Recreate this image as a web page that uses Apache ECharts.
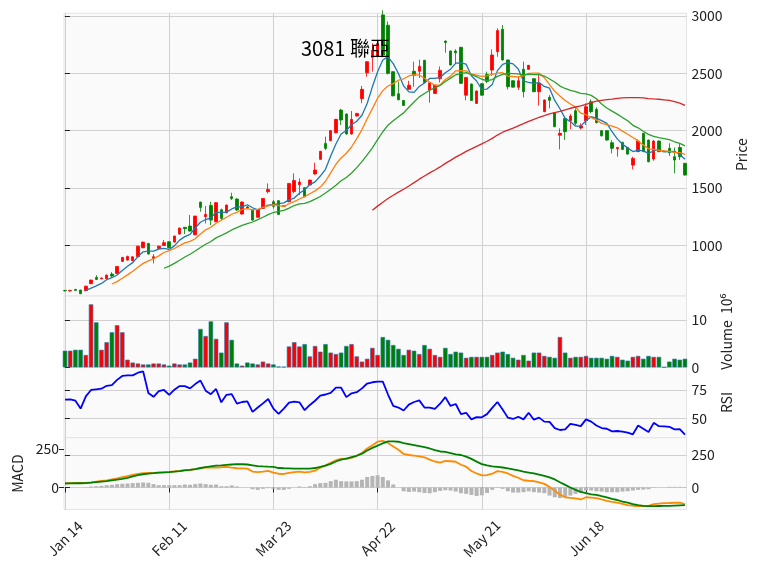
<!DOCTYPE html>
<html>
<head>
<meta charset="utf-8">
<title>3081 聯亞</title>
<script src="https://cdn.jsdelivr.net/npm/echarts@6.0.0/dist/echarts.min.js"></script>
<style>
  html, body { margin: 0; padding: 0; background: #fff; }
  #main { width: 758px; height: 572px; }
</style>
</head>
<body>
<div id="main"></div>
<script>
// ---- data (prices in TWD, volume in 10^6 shares) ----
var tickIdx    = [0, 20, 40, 60, 80, 100];
var tickLabels = ['Jan 14', 'Feb 11', 'Mar 23', 'Apr 22', 'May 21', 'Jun 18'];

var opens = [
  606, 602, 615, 610, 604, 665, 720, 708, 708, 749,
  755, 860, 871, 866, 900, 979, 1017, 886, 973, 999,
  1031, 1028, 1098, 1157, 1168, 1092, 1377, 1250, 1348, 1206,
  1310, 1284, 1424, 1404, 1273, 1335, 1308, 1244, 1322, 1468,
  1380, 1389, 1340, 1380, 1469, 1529, 1503, 1526, 1622, 1750,
  1889, 1913, 1982, 2180, 2145, 1971, 2128, 2279, 2506, 2640,
  2650, 3010, 2920, 2515, 2322, 2264, 2361, 2518, 2518, 2614,
  2354, 2325, 2454, 2782, 2695, 2695, 2727, 2310, 2407, 2238,
  2410, 2491, 2529, 2689, 2884, 2617, 2436, 2378, 2535, 2535,
  2454, 2340, 2166, 2291, 2157, 1960, 2107, 2087, 2174, 2023,
  2087, 2253, 2186, 2000, 2000, 1895, 1843, 1898, 1854, 1700,
  1817, 1977, 1918, 1753, 1910, 1817, 1846, 1773, 1854, 1715
];
var closes = [
  603, 606, 607, 578, 644, 697, 703, 715, 740, 732,
  816, 895, 903, 900, 993, 1028, 924, 900, 993, 1023,
  979, 1081, 1151, 1145, 1124, 1255, 1331, 1270, 1220, 1372,
  1235, 1351, 1408, 1308, 1378, 1325, 1220, 1313, 1409, 1488,
  1340, 1270, 1345, 1540, 1565, 1552, 1424, 1569, 1657, 1820,
  1846, 2000, 2099, 2093, 1971, 2099, 2151, 2361, 2602, 2700,
  2760, 2660, 2500, 2304, 2270, 2220, 2396, 2483, 2561, 2420,
  2418, 2396, 2526, 2770, 2573, 2680, 2413, 2465, 2264, 2346,
  2310, 2430, 2660, 2873, 2617, 2384, 2380, 2436, 2340, 2570,
  2340, 2413, 2268, 2265, 2035, 1977, 1991, 2128, 2064, 2041,
  2209, 2166, 2070, 1955, 1918, 1846, 1854, 1837, 1796, 1758,
  1910, 1817, 1729, 1910, 1817, 1817, 1808, 1744, 1773, 1613
];
var lows = [
  598, 597, 603, 575, 600, 662, 697, 704, 705, 720,
  752, 857, 868, 862, 897, 975, 920, 842, 970, 995,
  975, 1025, 1095, 1098, 1120, 1088, 1293, 1191, 1177, 1202,
  1220, 1280, 1395, 1300, 1268, 1315, 1215, 1240, 1318, 1453,
  1320, 1264, 1335, 1376, 1453, 1440, 1420, 1522, 1618, 1746,
  1831, 1909, 1978, 2049, 1966, 1966, 2124, 2240, 2471, 2515,
  2640, 2640, 2490, 2300, 2265, 2215, 2357, 2384, 2460, 2416,
  2244, 2321, 2420, 2680, 2569, 2580, 2409, 2265, 2260, 2234,
  2306, 2415, 2480, 2645, 2613, 2360, 2376, 2355, 2290, 2531,
  2336, 2218, 2162, 2195, 2031, 1837, 1919, 2014, 2050, 2012,
  2049, 2151, 2064, 1950, 1914, 1802, 1773, 1831, 1790, 1663,
  1817, 1813, 1725, 1738, 1813, 1817, 1780, 1628, 1745, 1609
];
var highs = [
  612, 612, 620, 612, 648, 700, 740, 720, 745, 766,
  818, 898, 910, 903, 996, 1031, 1020, 924, 996, 1046,
  1035, 1084, 1154, 1160, 1264, 1258, 1380, 1343, 1380, 1375,
  1320, 1355, 1459, 1410, 1382, 1345, 1312, 1317, 1412, 1540,
  1395, 1395, 1352, 1544, 1628, 1584, 1507, 1573, 1721, 1824,
  1948, 2004, 2103, 2192, 2150, 2172, 2155, 2390, 2606, 2762,
  2785, 3050, 2953, 2520, 2428, 2268, 2435, 2602, 2620, 2618,
  2422, 2400, 2560, 2786, 2699, 2710, 2731, 2469, 2411, 2350,
  2414, 2515, 2709, 2893, 2922, 2621, 2440, 2470, 2602, 2574,
  2458, 2500, 2272, 2310, 2161, 2020, 2111, 2145, 2195, 2064,
  2238, 2274, 2204, 2004, 2004, 1918, 1858, 1904, 1858, 1773,
  1925, 1981, 1922, 1918, 1914, 1817, 1890, 1854, 1890, 1719
];
var volumes = [
  3.5, 3.5, 3.7, 3.7, 2.6, 13.3, 9.5, 3.7, 5.3, 7.4,
  8.9, 7.4, 1.6, 1.0, 0.8, 0.6, 0.6, 0.8, 0.8, 0.6,
  0.35, 0.8, 0.6, 0.6, 1.0, 1.8, 8.1, 6.6, 9.7, 6.0,
  3.1, 9.5, 5.8, 0.8, 0.35, 1.0, 0.8, 0.6, 1.2, 0.8,
  0.6, 0.15, 0.1, 4.4, 5.3, 4.4, 4.9, 2.3, 4.5, 3.3,
  4.9, 3.1, 2.8, 3.1, 4.5, 4.9, 2.3, 1.2, 1.8, 4.1,
  2.6, 6.4, 5.8, 4.7, 3.9, 2.6, 3.7, 3.5, 2.8, 4.7,
  3.9, 2.6, 2.2, 4.1, 2.8, 3.3, 3.1, 2.0, 2.2, 2.2,
  2.2, 2.2, 2.6, 3.1, 3.3, 2.8, 2.0, 1.6, 2.6, 1.4,
  3.1, 3.1, 2.4, 2.2, 2.0, 6.4, 3.1, 2.0, 2.2, 2.2,
  2.4, 2.0, 2.0, 2.0, 1.8, 2.4, 2.2, 1.6, 1.4, 2.2,
  2.4, 1.8, 2.4, 2.2, 2.2, 0, 1.2, 1.8, 1.6, 1.8
];
var rsi = [
  66.4, 66.7, 65.5, 58.6, 69.3, 75.0, 75.6, 76.1, 78.7, 79.3,
  83.9, 87.4, 87.9, 87.9, 90.2, 91.4, 72.4, 69.0, 73.9, 75.0,
  70.7, 75.3, 78.4, 78.4, 76.4, 80.2, 83.3, 74.4, 71.3, 75.9,
  64.1, 70.7, 71.3, 62.9, 64.4, 64.9, 55.7, 59.5, 63.2, 67.0,
  58.6, 54.0, 58.6, 63.8, 64.7, 64.1, 57.2, 61.8, 65.5, 70.1,
  71.0, 72.4, 77.0, 77.0, 68.7, 72.1, 73.0, 76.4, 80.7, 81.8,
  82.3, 82.4, 71.0, 60.9, 59.5, 56.9, 62.1, 64.4, 65.8, 59.5,
  59.5, 58.3, 62.9, 68.7, 60.9, 62.6, 53.7, 54.9, 49.1, 51.1,
  50.9, 53.7, 59.2, 64.4, 57.8, 50.6, 49.4, 51.4, 49.1, 54.9,
  48.8, 50.6, 47.1, 46.8, 41.4, 39.7, 40.2, 45.1, 44.2, 43.1,
  49.1, 47.1, 43.7, 41.4, 40.8, 38.5, 38.8, 38.2, 37.4, 35.9,
  43.7, 40.8, 37.9, 46.0, 43.1, 42.8, 42.5, 40.2, 40.5, 35.6
];
var macd = [
  34, 34, 35, 35, 36, 40, 45, 50, 55, 63,
  70, 79, 88, 97, 105, 110, 112, 113, 115, 117,
  120, 124, 128, 133, 136, 141, 147, 154, 154, 154,
  156, 159, 153, 148, 147, 145, 123, 118, 122, 128,
  115, 106, 104, 113, 118, 122, 117, 120, 130, 152,
  170, 190, 210, 220, 221, 228, 245, 265, 300, 325,
  352, 359, 342, 315, 290, 258, 250, 245, 240, 232,
  215, 200, 192, 204, 202, 198, 175, 160, 127, 108,
  94, 95, 106, 126, 121, 108, 90, 75, 56, 52,
  49, 40, 28, 5, -25, -55, -75, -80, -84, -92,
  -75, -77, -81, -92, -102, -110, -117, -126, -135, -140,
  -143, -142, -141, -128, -124, -120, -119, -117, -117, -128
];
var signal = [
  31, 32, 33, 33, 34, 37, 41, 45, 49, 55,
  61, 67, 74, 85, 95, 102, 107, 110, 115, 117,
  119, 122, 126, 131, 135, 142, 150, 157, 163, 169,
  171, 174, 177, 180, 179, 177, 171, 165, 162, 160,
  159, 150, 148, 147, 146, 146, 146, 146, 150, 159,
  168, 182, 200, 214, 222, 233, 244, 260, 285, 305,
  322, 340, 354, 354, 352, 342, 334, 326, 318, 310,
  300, 287, 277, 274, 265, 255, 250, 238, 220, 199,
  180, 170, 162, 158, 154, 148, 140, 132, 122, 115,
  108, 100, 90, 78, 62, 40, 20, 0, -18, -33,
  -44, -52, -57, -67, -76, -88, -96, -108, -117, -128,
  -136, -141, -143, -143, -142, -141, -141, -139, -137, -135
];
var hist = [
  0, 0, 0, 0, 2, 8, 10, 13, 18, 21,
  26, 29, 31, 34, 36, 39, 36, 26, 18, 18,
  18, 18, 18, 23, 21, 26, 31, 26, 21, 23,
  10, 10, 16, 8, 0, 0, -13, -18, -10, -5,
  -10, -18, -18, -10, 0, 8, 3, 10, 26, 34,
  36, 49, 60, 49, 47, 47, 49, 60, 81, 89,
  94, 81, 55, 23, 0, -29, -34, -31, -36, -42,
  -44, -36, -26, -21, -23, -31, -44, -49, -57, -65,
  -60, -42, -18, -3, -10, -29, -39, -39, -36, -29,
  -36, -39, -44, -62, -75, -81, -75, -62, -49, -42,
  -23, -23, -29, -31, -36, -36, -36, -31, -29, -23,
  -18, -16, -13, -3, 0, 0, 5, 5, 5, 3
];
var maPeriods = [5, 10, 20, 60];
var maColors  = ['#1f77b4', '#ff7f0e', '#2ca02c', '#d62728'];

// ---- helpers ----
var FONT = '"Noto Sans CJK TC", "Noto Sans", sans-serif';
var UP = '#ff0000', DOWN = '#008000';

function movingAvg(n) {
  var out = [];
  for (var i = n - 1; i < closes.length; i++) {
    var s = 0;
    for (var k = i - n + 1; k <= i; k++) s += closes[k];
    out.push([i, s / n]);
  }
  return out;
}
function pairs(arr) {
  return arr.map(function (v, i) { return [i, v]; });
}

var candleData = opens.map(function (o, i) {
  return [i, o, closes[i], lows[i], highs[i]];
});
var volData = volumes.map(function (v, i) {
  return { value: [i, v], itemStyle: { color: closes[i] >= opens[i] ? UP : DOWN } };
});

// panels: [top, height]
var panels = [[13.3, 282.7], [296, 71.3], [367.3, 70.4], [437.7, 71.8]];

var grids = panels.map(function (p) {
  return {
    left: 64, right: 71.5, top: p[0], height: p[1],
    show: true, backgroundColor: '#fafafa', borderColor: '#e4e4e4', borderWidth: 1
  };
});

var xAxes = panels.map(function (p, g) {
  var last = g === panels.length - 1;
  return {
    type: 'value', gridIndex: g, min: -0.19, max: 119.29,
    axisLine: { show: false },
    axisTick: { show: last, length: 5, customValues: tickIdx, lineStyle: { color: '#222' } },
    axisLabel: {
      show: last, customValues: tickIdx, rotate: 45, align: 'center', verticalAlign: 'middle',
      margin: 29, fontSize: 14, color: '#222', fontFamily: FONT,
      formatter: function (v) { var k = tickIdx.indexOf(v); return k >= 0 ? tickLabels[k] : ''; }
    },
    splitLine: { show: true, lineStyle: { color: '#d0d0d0', width: 1 } }
  };
});

function yAxis(g, pos, min, max, vals, name, gap, split) {
  return {
    type: 'value', gridIndex: g, position: pos, min: min, max: max,
    name: name, nameLocation: 'middle', nameRotate: 90, nameGap: gap,
    nameTextStyle: { fontSize: 14, color: '#222', fontFamily: FONT },
    axisLine: { show: false },
    axisTick: { show: true, length: 5, customValues: vals, lineStyle: { color: '#222' } },
    axisLabel: {
      customValues: vals, fontSize: 14, color: '#222', fontFamily: FONT, margin: 5,
      formatter: function (v) { return String(v); }
    },
    splitLine: { show: split, lineStyle: { color: '#d0d0d0', width: 1 } }
  };
}

var yAxes = [
  yAxis(0, 'right', 558, 3024, [1000, 1500, 2000, 2500, 3000], 'Price', 48, true),
  yAxis(1, 'right', 0, 15.07, [0, 10], 'Volume  10\u2076', 33, true),
  yAxis(2, 'right', 32.9, 95, [50, 75], 'RSI', 33, true),
  yAxis(3, 'right', -169, 383, [0, 250], '', 40, true),
  yAxis(3, 'left', -145, 324, [0, 250], 'MACD', 38, false)
];

var series = [{
  type: 'candlestick', xAxisIndex: 0, yAxisIndex: 0, data: candleData,
  barWidth: 3, clip: true,
  itemStyle: {
    color: UP, color0: DOWN, borderColor: UP, borderColor0: DOWN,
    borderColorDoji: DOWN, borderWidth: 0.8
  }
}];
maPeriods.forEach(function (n, k) {
  series.push({
    type: 'line', xAxisIndex: 0, yAxisIndex: 0, data: movingAvg(n),
    showSymbol: false, z: 3, lineStyle: { color: maColors[k], width: 1.3 }
  });
});
series.push({
  type: 'bar', xAxisIndex: 1, yAxisIndex: 1, data: volData, barWidth: 4.4,
  itemStyle: { borderColor: '#1f77b4', borderWidth: 0.6 }
});
series.push({
  type: 'line', xAxisIndex: 2, yAxisIndex: 2, data: pairs(rsi), showSymbol: false,
  lineStyle: { color: '#0000ff', width: 1.8 }
});
series.push({
  type: 'bar', xAxisIndex: 3, yAxisIndex: 3, data: pairs(hist), barWidth: 4,
  itemStyle: { color: '#b5b5b5' }
});
series.push({
  type: 'line', xAxisIndex: 3, yAxisIndex: 3, data: pairs(macd), showSymbol: false,
  lineStyle: { color: '#ff8c00', width: 1.8 }
});
series.push({
  type: 'line', xAxisIndex: 3, yAxisIndex: 3, data: pairs(signal), showSymbol: false,
  lineStyle: { color: '#008000', width: 1.8 }
});

var chart = echarts.init(document.getElementById('main'));
chart.setOption({
  animation: false,
  backgroundColor: '#ffffff',
  textStyle: { fontFamily: FONT },
  grid: grids,
  xAxis: xAxes,
  yAxis: yAxes,
  graphic: [{
    type: 'text', left: 301, top: 38, z: 100,
    style: { text: '3081 聯亞', font: '20px ' + FONT, fill: '#000' }
  }],
  series: series
});
</script>
</body>
</html>
